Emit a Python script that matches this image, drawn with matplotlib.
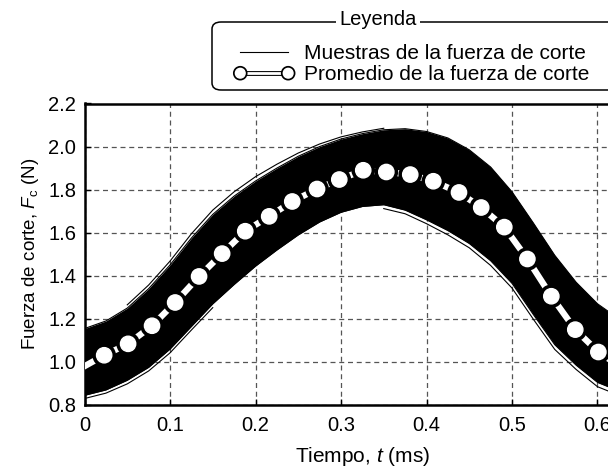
import matplotlib
matplotlib.use("Agg")
import matplotlib.pyplot as plt
import matplotlib.patheffects as pe
from matplotlib.lines import Line2D
from matplotlib.patches import FancyBboxPatch

plt.rcParams['font.family'] = ['Liberation Sans', 'DejaVu Sans']
plt.rcParams['mathtext.fontset'] = 'custom'
plt.rcParams['mathtext.rm'] = 'Liberation Sans'
plt.rcParams['mathtext.it'] = 'Liberation Sans:italic'

# envelope of the sample curves (ms, N)
t_env = [0, 0.025, 0.05, 0.075, 0.1, 0.125, 0.15, 0.175, 0.2, 0.225, 0.25, 0.275, 0.3,
         0.325, 0.35, 0.375, 0.4, 0.425, 0.45, 0.475, 0.5, 0.525, 0.55, 0.575, 0.6, 0.625]
upper = [1.155, 1.19, 1.25, 1.34, 1.45, 1.575, 1.685, 1.77, 1.84, 1.90, 1.955, 2.0, 2.035,
         2.06, 2.078, 2.083, 2.07, 2.04, 1.985, 1.905, 1.79, 1.645, 1.495, 1.37, 1.27, 1.20]
lower = [0.845, 0.87, 0.915, 0.975, 1.06, 1.165, 1.27, 1.36, 1.445, 1.52, 1.59, 1.65, 1.695,
         1.722, 1.73, 1.705, 1.66, 1.61, 1.55, 1.47, 1.365, 1.22, 1.08, 0.985, 0.905, 0.865]

# a few single samples that stand out of the band
t_hi = [0.05, 0.075, 0.1, 0.125, 0.15, 0.175, 0.2, 0.225, 0.25, 0.275, 0.3, 0.325, 0.35]
f_hi = [1.265, 1.357, 1.468, 1.595, 1.705, 1.79, 1.86, 1.918, 1.97, 2.012, 2.045, 2.068, 2.085]
t_lo = [0.0, 0.025, 0.05, 0.075, 0.1, 0.125, 0.15]
f_lo = [0.83, 0.855, 0.898, 0.958, 1.042, 1.148, 1.252]
t_lo2 = [0.35, 0.375, 0.4, 0.425, 0.45, 0.475, 0.5, 0.525, 0.55, 0.575, 0.6, 0.625]
f_lo2 = [1.712, 1.688, 1.642, 1.59, 1.53, 1.448, 1.343, 1.198, 1.058, 0.965, 0.885, 0.845]

# average curve
t_mean = [0, 0.023, 0.051, 0.079, 0.106, 0.134, 0.161, 0.188, 0.216, 0.243, 0.272, 0.298,
          0.326, 0.353, 0.381, 0.408, 0.438, 0.464, 0.491, 0.518, 0.546, 0.574, 0.601, 0.63]
f_mean = [0.98, 1.031, 1.084, 1.168, 1.276, 1.397, 1.503, 1.607, 1.676, 1.745, 1.803, 1.847,
          1.890, 1.882, 1.870, 1.839, 1.787, 1.717, 1.626, 1.478, 1.305, 1.150, 1.046, 0.97]

xticks = [0, 0.1, 0.2, 0.3, 0.4, 0.5, 0.6]
yticks = [0.8, 1.0, 1.2, 1.4, 1.6, 1.8, 2.0, 2.2]

W, H = 608, 474
fig = plt.figure(figsize=(W / 100, H / 100), dpi=100)
ax = fig.add_axes([84.5 / W, 69 / H, 0.65 * 855 / W, 301.5 / H])

ax.fill_between(t_env, lower, upper, color='black', lw=0, zorder=2)
ax.plot(t_env, upper, color='black', lw=0.8, zorder=2)
ax.plot(t_env, lower, color='black', lw=0.8, zorder=2)
for tt, ff in [(t_hi, f_hi), (t_lo, f_lo), (t_lo2, f_lo2)]:
    ax.plot(tt, ff, color='black', lw=0.8, zorder=2)

outline = [pe.Stroke(linewidth=6, foreground='black'), pe.Normal()]
ax.plot(t_mean, f_mean, color='white', lw=4.5, marker='o', markersize=11,
        markerfacecolor='white', markeredgecolor='white', markevery=slice(1, None),
        zorder=3, path_effects=outline)

ax.set_xlim(0, 0.65)
ax.set_ylim(0.8, 2.2)
ax.set_xticks(xticks)
ax.set_xticklabels(['0'] + [f'{v:.1f}' for v in xticks[1:]])
ax.set_yticks(yticks)
ax.set_yticklabels([f'{v:.1f}' for v in yticks])
ax.tick_params(direction='in', length=4, width=1, labelsize=14.5)
ax.tick_params(axis='x', pad=8)
ax.tick_params(axis='y', pad=6)
ax.grid(True, color='#555555', linestyle=(0, (4, 3)), lw=0.9)
ax.set_axisbelow(True)
for s in ax.spines.values():
    s.set_linewidth(1.8)

ax.set_xlabel('Tiempo, $t$ (ms)', fontsize=15, labelpad=7)
ax.set_ylabel('Fuerza de corte, $F_{\\mathrm{c}}$ (N)', fontsize=13.5, labelpad=5)

# legend
h_samples = Line2D([], [], color='black', lw=0.8)
h_mean = Line2D([], [], color='white', lw=2, marker='o', markersize=7,
                markerfacecolor='white', markeredgecolor='white',
                path_effects=[pe.Stroke(linewidth=3.5, foreground='black'), pe.Normal()])
fig.legend([h_samples, h_mean],
           ['Muestras de la fuerza de corte', 'Promedio de la fuerza de corte'],
           loc='upper left', bbox_to_anchor=(234 / W, 1 - 44 / H), frameon=False,
           fontsize=15, handlelength=2.9, handletextpad=0.45, numpoints=2,
           labelspacing=0.12, borderpad=0, borderaxespad=0)

box = FancyBboxPatch((212 / W, 1 - 90 / H), 420 / W, 68 / H,
                     boxstyle='round,pad=0,rounding_size=0.015',
                     transform=fig.transFigure, fill=False, lw=1.1, ec='black')
fig.patches.append(box)
fig.text(378 / W, 1 - 25 / H, 'Leyenda', ha='center', va='baseline', fontsize=14.5,
         bbox=dict(facecolor='white', edgecolor='none', pad=2))

fig.savefig('out.png', dpi=100)
